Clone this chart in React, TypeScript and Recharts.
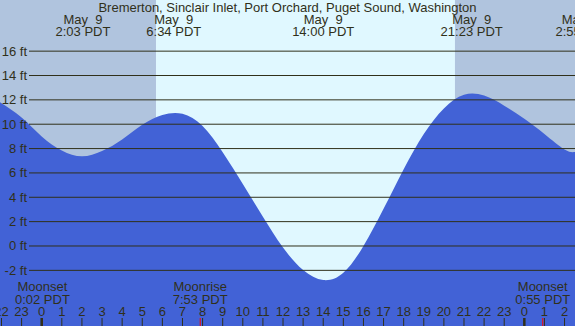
import React from "react";
import {
  ComposedChart,
  Area,
  XAxis,
  YAxis,
  ReferenceArea,
  ReferenceLine,
} from "recharts";

const W = 575;
const H = 326;
const INK = "#30301a";
const WATER = "#4262d6";
const NIGHT = "#b0c4de";
const DAY = "#e0f8ff";
const FONT = "'Liberation Sans', Arial, sans-serif";

// hours relative to midnight May 9 (PDT)
const X_MIN = -2.074;
const X_MAX = 26.52;
const Y_MIN = -6.57;
const Y_MAX = 20.2;

const hours = [
  -2.074, -1, 0, 1, 2, 3, 4, 5, 6, 7, 8, 9, 10, 11, 12, 13, 14, 15, 16, 17, 18,
  19, 20, 21, 22, 23, 24, 25, 26, 26.52,
];
const feet = [
  11.8, 10.55, 9.0, 7.85, 7.36, 7.8, 8.75, 9.95, 10.75, 10.85, 9.85, 7.7, 5.1,
  2.4, -0.13, -1.98, -2.8, -2.2, 0.0, 3.05, 6.3, 9.2, 11.3, 12.42, 12.35, 11.52,
  10.44, 9.2, 7.93, 7.72,
];

const gridFeet = [-2, 0, 2, 4, 6, 8, 10, 12, 14, 16];
const hourTicks = [
  -2, -1, 0, 1, 2, 3, 4, 5, 6, 7, 8, 9, 10, 11, 12, 13, 14, 15, 16, 17, 18, 19,
  20, 21, 22, 23, 24, 25, 26,
];

const sunrise = 5.683;
const sunset = 20.55;

const tideTimes = [2.05, 6.567, 14.0, 21.383, 26.917];
const tideDates = ["May  9", "May  9", "May  9", "May  9", "May 10"];
const tideLabels = ["2:03 PDT", "6:34 PDT", "14:00 PDT", "21:23 PDT", "2:55 PDT"];

const moonTimes = [0.033, 7.883, 24.917];
const moonEvents = ["Moonset", "Moonrise", "Moonset"];
const moonLabels = ["0:02 PDT", "7:53 PDT", "0:55 PDT"];

const title = "Bremerton, Sinclair Inlet, Port Orchard, Puget Sound, Washington";

const data = hours.map((h, i) => ({ h, ft: feet[i] }));

const textStyle = { fontFamily: FONT, fontSize: 13, fill: INK, whiteSpace: "pre" } as const;

function FeetTick(props: any) {
  const { y, payload } = props;
  return (
    <g>
      <line x1={29} x2={W} y1={y} y2={y} stroke={INK} strokeWidth={1} />
      <text x={27} y={y + 4.5} textAnchor="end" style={textStyle}>
        {`${payload.value} ft`}
      </text>
    </g>
  );
}

function HourTick(props: any) {
  const { x, payload } = props;
  const label = ((payload.value % 24) + 24) % 24;
  return (
    <g>
      <line
        x1={x}
        x2={x}
        y1={H - 8}
        y2={H}
        stroke={INK}
        strokeWidth={label === 0 ? 2.5 : 1}
      />
      <text x={x} y={H - 10} textAnchor="middle" style={textStyle}>
        {label}
      </text>
    </g>
  );
}

function TideLabel({ viewBox, date, time }: any) {
  if (!viewBox) return null;
  const { x, y } = viewBox;
  return (
    <g>
      <text x={x} y={y + 24} textAnchor="middle" style={textStyle}>
        {date}
      </text>
      <text x={x} y={y + 36} textAnchor="middle" style={textStyle}>
        {time}
      </text>
    </g>
  );
}

function MoonLabel({ viewBox, event, time }: any) {
  if (!viewBox) return null;
  const { x, y, height } = viewBox;
  const bottom = y + height;
  return (
    <g>
      <line x1={x} x2={x} y1={bottom - 8} y2={bottom} stroke="#ff0000" strokeWidth={1} />
      <text x={x} y={bottom - 35} textAnchor="middle" style={textStyle}>
        {event}
      </text>
      <text x={x} y={bottom - 22} textAnchor="middle" style={textStyle}>
        {time}
      </text>
    </g>
  );
}

export default function App() {
  return (
    <div style={{ position: "absolute", left: 0, top: 0, width: W, height: H }}>
      <ComposedChart
        width={W}
        height={H}
        data={data}
        margin={{ top: 0, right: 0, bottom: 0, left: 0 }}
      >
        <ReferenceArea x1={X_MIN} x2={sunrise} fill={NIGHT} fillOpacity={1} stroke="none" ifOverflow="visible" />
        <ReferenceArea x1={sunrise} x2={sunset} fill={DAY} fillOpacity={1} stroke="none" ifOverflow="visible" />
        <ReferenceArea x1={sunset} x2={X_MAX} fill={NIGHT} fillOpacity={1} stroke="none" ifOverflow="visible" />
        <Area
          type="natural"
          dataKey="ft"
          stroke="none"
          fill={WATER}
          fillOpacity={1}
          baseValue="dataMin"
          dot={false}
          activeDot={false}
          isAnimationActive={false}
        />
        <XAxis
          type="number"
          dataKey="h"
          domain={[X_MIN, X_MAX]}
          allowDataOverflow
          ticks={hourTicks}
          interval={0}
          mirror
          height={30}
          tickSize={0}
          tickMargin={0}
          axisLine={false}
          tickLine={false}
          tick={<HourTick />}
        />
        <YAxis
          type="number"
          domain={[Y_MIN, Y_MAX]}
          allowDataOverflow
          ticks={gridFeet}
          interval={0}
          mirror
          width={30}
          tickSize={0}
          tickMargin={0}
          axisLine={false}
          tickLine={false}
          tick={<FeetTick />}
        />
        {tideTimes.map((t, i) => (
          <ReferenceLine
            key={`tide-${i}`}
            x={t}
            stroke="none"
            ifOverflow="visible"
            label={<TideLabel date={tideDates[i]} time={tideLabels[i]} />}
          />
        ))}
        {moonTimes.map((t, i) => (
          <ReferenceLine
            key={`moon-${i}`}
            x={t}
            stroke="none"
            ifOverflow="visible"
            label={<MoonLabel event={moonEvents[i]} time={moonLabels[i]} />}
          />
        ))}
      </ComposedChart>
      <svg
        width={W}
        height={16}
        style={{ position: "absolute", left: 0, top: 0, pointerEvents: "none" }}
      >
        <text x={W / 2} y={12} textAnchor="middle" style={textStyle}>
          {title}
        </text>
      </svg>
    </div>
  );
}
